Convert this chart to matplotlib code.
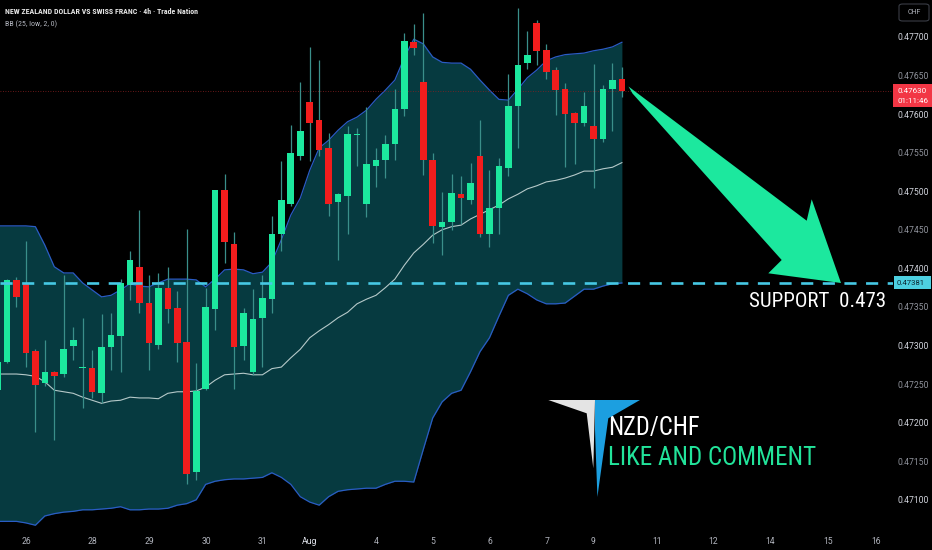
import numpy as np
import matplotlib
matplotlib.use("Agg")
import matplotlib.pyplot as plt
from matplotlib.patches import Polygon, Rectangle, FancyBboxPatch
from matplotlib import font_manager as fm

names = {f.name for f in fm.fontManager.ttflist}
NARROW = 'Roboto'
NARROW_STRETCH = 'normal'
for cand in ['Liberation Sans Narrow', 'Roboto Condensed', 'Noto Sans Condensed',
             'Open Sans Condensed', 'DejaVu Sans Condensed', 'Arial Narrow']:
    if cand in names:
        NARROW = cand
        break
else:
    for f in fm.fontManager.ttflist:
        if f.stretch in ('condensed', 'semi-condensed') and f.name in ('Noto Sans', 'Open Sans', 'DejaVu Sans', 'Roboto'):
            NARROW = f.name
            NARROW_STRETCH = f.stretch
            break
UI = 'Roboto' if 'Roboto' in names else 'DejaVu Sans'

# ---------------- data (4h candles, first one partly off-screen) ----------------
opens = [0.47242, 0.47279, 0.47385, 0.47380, 0.47293, 0.47252, 0.47266, 0.47263, 0.47299, 0.47271,
         0.47271, 0.47238, 0.47298, 0.47312, 0.47378, 0.47402, 0.47355, 0.47301, 0.47375, 0.47348,
         0.47304, 0.47136, 0.47243, 0.47347, 0.47501, 0.47432, 0.47299, 0.47265, 0.47336, 0.47360,
         0.47444, 0.47484, 0.47546, 0.47616, 0.47592, 0.47556, 0.47486, 0.47494, 0.47573, 0.47483,
         0.47532, 0.47541, 0.47561, 0.47606, 0.47693, 0.47642, 0.47540, 0.47454, 0.47460, 0.47496,
         0.47489, 0.47546, 0.47445, 0.47478, 0.47530, 0.47610, 0.47666, 0.47718, 0.47683, 0.47657,
         0.47633, 0.47601, 0.47588, 0.47584, 0.47567, 0.47632, 0.47645]
highs = [0.47288, 0.47386, 0.47389, 0.47436, 0.47295, 0.47307, 0.47267, 0.47391, 0.47324, 0.47336,
         0.47294, 0.47341, 0.47342, 0.47386, 0.47422, 0.47476, 0.47391, 0.47394, 0.47402, 0.47370,
         0.47451, 0.47277, 0.47375, 0.47501, 0.47522, 0.47447, 0.47348, 0.47373, 0.47391, 0.47468,
         0.47539, 0.47586, 0.47642, 0.47687, 0.47670, 0.47576, 0.47498, 0.47584, 0.47582, 0.47609,
         0.47556, 0.47573, 0.47633, 0.47705, 0.47717, 0.47731, 0.47549, 0.47499, 0.47522, 0.47520,
         0.47537, 0.47592, 0.47528, 0.47543, 0.47652, 0.47737, 0.47707, 0.47722, 0.47691, 0.47661,
         0.47640, 0.47603, 0.47629, 0.47665, 0.47638, 0.47666, 0.47661]
lows = [0.47236, 0.47277, 0.47350, 0.47272, 0.47188, 0.47247, 0.47177, 0.47259, 0.47281, 0.47219,
        0.47232, 0.47225, 0.47268, 0.47265, 0.47359, 0.47342, 0.47268, 0.47295, 0.47329, 0.47279,
        0.47120, 0.47126, 0.47242, 0.47320, 0.47407, 0.47244, 0.47281, 0.47262, 0.47272, 0.47342,
        0.47422, 0.47481, 0.47540, 0.47539, 0.47545, 0.47468, 0.47411, 0.47445, 0.47532, 0.47467,
        0.47506, 0.47517, 0.47541, 0.47597, 0.47676, 0.47521, 0.47433, 0.47417, 0.47450, 0.47458,
        0.47484, 0.47440, 0.47428, 0.47445, 0.47520, 0.47556, 0.47659, 0.47664, 0.47645, 0.47599,
        0.47531, 0.47535, 0.47584, 0.47504, 0.47564, 0.47578, 0.47622]
closes = [0.47279, 0.47385, 0.47363, 0.47290, 0.47249, 0.47265, 0.47261, 0.47296, 0.47307, 0.47272,
          0.47240, 0.47298, 0.47314, 0.47381, 0.47411, 0.47355, 0.47303, 0.47375, 0.47347, 0.47303,
          0.47133, 0.47241, 0.47350, 0.47501, 0.47434, 0.47298, 0.47342, 0.47334, 0.47361, 0.47444,
          0.47489, 0.47550, 0.47578, 0.47589, 0.47554, 0.47484, 0.47496, 0.47574, 0.47574, 0.47535,
          0.47540, 0.47561, 0.47607, 0.47695, 0.47686, 0.47540, 0.47455, 0.47460, 0.47497, 0.47491,
          0.47511, 0.47444, 0.47478, 0.47533, 0.47610, 0.47664, 0.47676, 0.47682, 0.47654, 0.47631,
          0.47600, 0.47588, 0.47610, 0.47567, 0.47633, 0.47644, 0.47630]

bb_upper = [0.47455, 0.47455, 0.47455, 0.47455, 0.47454, 0.47430, 0.47402, 0.47394, 0.47394, 0.47381,
            0.47372, 0.47363, 0.47365, 0.47372, 0.47380, 0.47377, 0.47376, 0.47381, 0.47386, 0.47386,
            0.47386, 0.47385, 0.47376, 0.47386, 0.47398, 0.47399, 0.47398, 0.47393, 0.47395, 0.47408,
            0.47437, 0.47469, 0.47491, 0.47527, 0.47556, 0.47566, 0.47579, 0.47590, 0.47596, 0.47605,
            0.47619, 0.47631, 0.47644, 0.47673, 0.47697, 0.47691, 0.47674, 0.47667, 0.47666, 0.47666,
            0.47658, 0.47644, 0.47631, 0.47619, 0.47618, 0.47632, 0.47647, 0.47657, 0.47669, 0.47674,
            0.47677, 0.47678, 0.47679, 0.47682, 0.47684, 0.47687, 0.47693]
bb_mid = [0.47263, 0.47263, 0.47263, 0.47262, 0.47260, 0.47253, 0.47242, 0.47240, 0.47238, 0.47233,
          0.47229, 0.47225, 0.47228, 0.47229, 0.47233, 0.47232, 0.47232, 0.47231, 0.47238, 0.47240,
          0.47240, 0.47241, 0.47246, 0.47255, 0.47262, 0.47263, 0.47264, 0.47262, 0.47262, 0.47270,
          0.47272, 0.47284, 0.47295, 0.47310, 0.47319, 0.47327, 0.47336, 0.47343, 0.47354, 0.47360,
          0.47365, 0.47375, 0.47386, 0.47404, 0.47420, 0.47431, 0.47443, 0.47450, 0.47454, 0.47456,
          0.47464, 0.47470, 0.47476, 0.47482, 0.47490, 0.47496, 0.47503, 0.47507, 0.47512, 0.47514,
          0.47517, 0.47521, 0.47526, 0.47526, 0.47529, 0.47531, 0.47537]
bb_lower = [0.47072, 0.47072, 0.47072, 0.47070, 0.47067, 0.47079, 0.47082, 0.47084, 0.47085, 0.47087,
            0.47087, 0.47088, 0.47089, 0.47091, 0.47087, 0.47087, 0.47088, 0.47088, 0.47089, 0.47093,
            0.47095, 0.47100, 0.47120, 0.47124, 0.47126, 0.47127, 0.47127, 0.47128, 0.47129, 0.47135,
            0.47129, 0.47120, 0.47104, 0.47097, 0.47093, 0.47104, 0.47111, 0.47113, 0.47114, 0.47115,
            0.47115, 0.47120, 0.47124, 0.47124, 0.47123, 0.47165, 0.47206, 0.47227, 0.47238, 0.47242,
            0.47266, 0.47292, 0.47310, 0.47338, 0.47365, 0.47373, 0.47367, 0.47359, 0.47354, 0.47354,
            0.47355, 0.47364, 0.47373, 0.47373, 0.47377, 0.47380, 0.47381]

day_labels = ['26', '28', '29', '30', '31', 'Aug', '4', '5', '6', '7', '9', '11', '12', '14', '15', '16']
day_pos = [2.0, 9.06, 15.04, 21.04, 27.03, 32.03, 39.0, 45.0, 51.06, 57.05, 62.0, 68.7, 74.6, 80.7, 86.8, 91.9]
price_ticks = [0.47100, 0.47150, 0.47200, 0.47250, 0.47300, 0.47350, 0.47400,
               0.47450, 0.47500, 0.47550, 0.47600, 0.47650, 0.47700]
support = 0.47381
last_price = 0.47630
last_time = '01:11:46'
title = 'NEW ZEALAND DOLLAR VS SWISS FRANC · 4h · Trade Nation'
indicator = 'BB (25, low, 2, 0)'

# ---------------- style ----------------
BG = '#000000'
GREEN = '#1ce89e'
RED = '#f21d1d'
WICK = '#3a8f8a'
FILL = '#063a40'
BAND = '#2a5cc4'
MID = '#b5c9c9'
CYAN = '#46c8e4'

W, H = 932, 550
def fx(x): return x / W
def fy(y): return 1 - y / H

fig = plt.figure(figsize=(W / 100, H / 100), dpi=100, facecolor=BG)
ax = fig.add_axes([0, fy(528), fx(893), 528 / H])
ax.set_facecolor(BG)
for s in ax.spines.values():
    s.set_visible(False)

n = len(opens)
idx = np.arange(n) - 1
o = np.array(opens); h = np.array(highs); l = np.array(lows); c = np.array(closes)

step = 9.46  # px per candle
ax.set_xlim(-7 / step, (893 - 7) / step)
ax.set_ylim(0.477478 - 528 * 1.29618e-5, 0.477478)

# Bollinger band
ax.fill_between(idx, bb_lower, bb_upper, color=FILL, lw=0, zorder=1)
ax.plot(idx, bb_upper, color=BAND, lw=0.9, zorder=2)
ax.plot(idx, bb_lower, color=BAND, lw=0.9, zorder=2)
ax.plot(idx, bb_mid, color=MID, lw=0.8, zorder=2)

# last price dotted line
ax.axhline(last_price, color='#8a2020', lw=0.6, ls=(0, (1, 2)), zorder=2)

# candles
up = c >= o
cols = np.where(up, GREEN, RED)
ax.vlines(idx, l, h, colors=WICK, lw=0.9, zorder=3)
bottoms = np.minimum(o, c)
heights = np.maximum(np.abs(c - o), 1.2e-5)
ax.bar(idx, heights, bottom=bottoms, width=0.7, color=cols, lw=0, zorder=4)

# support line
ax.axhline(support, color=CYAN, lw=1.9, dashes=(4.6, 3.6), zorder=6)

# axes ticks
ax.yaxis.tick_right()
ax.set_yticks(price_ticks)
ax.set_yticklabels([f'{p:.5f}' for p in price_ticks])
ax.tick_params(axis='y', length=0, pad=3, labelsize=6.2, labelcolor='#d1d4dc')
for lab, p in zip(ax.get_yticklabels(), price_ticks):
    lab.set_fontfamily(UI)
    if round(p * 10000) % 10 != 0:
        lab.set_color('#8f929b')
ax.set_xticks(day_pos)
ax.set_xticklabels(day_labels)
ax.tick_params(axis='x', length=0, pad=6.5, labelsize=6.2, labelcolor='#b2b5be')
for lab in ax.get_xticklabels():
    lab.set_fontfamily(UI)
    if lab.get_text() == 'Aug':
        lab.set_color('#e0e3eb')

fig.canvas.draw()
renderer = fig.canvas.get_renderer()

def data_px(price):
    return H - ax.transData.transform((0, price))[1]

def fit_width(t, target_px):
    w = t.get_window_extent(renderer).width
    if w > 0:
        t.set_fontsize(t.get_fontsize() * target_px / w)

# price labels on the axis
yp = data_px(last_price)
fig.add_artist(Rectangle((fx(893), fy(yp + 16)), fx(932) - fx(893), (23) / H,
                         transform=fig.transFigure, fc='#f23645', ec='none'))
fig.text(fx(897), fy(yp + 0.5), f'{last_price:.5f}', color='white', fontsize=5.8,
         family=UI, va='center', ha='left')
fig.text(fx(897), fy(yp + 10.5), last_time, color='white', fontsize=5.8,
         family=UI, va='center', ha='left')

ys = data_px(support)
fig.add_artist(Rectangle((fx(894), fy(ys + 6.5)), fx(931) - fx(894), 13 / H,
                         transform=fig.transFigure, fc='#4dd0e1', ec='none'))
fig.text(fx(897), fy(ys + 0.3), f'{support:.5f}', color='#0b2630', fontsize=5.6,
         family=UI, va='center', ha='left')

# CHF box
fig.add_artist(FancyBboxPatch((fx(899), fy(21)), fx(929) - fx(899), 17 / H,
                              boxstyle='round,pad=0,rounding_size=0.004',
                              transform=fig.transFigure, fc='none', ec='#3a3d46', lw=0.8))
fig.text(fx(914), fy(12.5), 'CHF', color='#b2b5be', fontsize=5, family=UI, ha='center', va='center')

# header
t1 = fig.text(fx(5), fy(12), title, color='#e6e6e6', fontsize=6.0, family=NARROW,
              fontstretch=NARROW_STRETCH, weight='bold', ha='left', va='center')
fit_width(t1, 191)
t2 = fig.text(fx(5), fy(24.5), indicator, color='#b2b5be', fontsize=6.0, family=NARROW,
              fontstretch=NARROW_STRETCH, ha='left', va='center')
fit_width(t2, 52)

# big arrow
arrow_px = [(628.5, 86.5), (806.7, 220.7), (811.7, 199.3), (841, 283), (768.3, 273.3),
            (781.7, 260), (632.5, 93.5)]
fig.add_artist(Polygon([(fx(x), fy(y)) for x, y in arrow_px], closed=True,
                       transform=fig.transFigure, fc=GREEN, ec='none', zorder=5))

t3 = fig.text(fx(749), fy(301.5), 'SUPPORT  0.473', color='white', fontsize=14,
              family=NARROW, fontstretch=NARROW_STRETCH, ha='left', va='center')
fit_width(t3, 138)

# logo
white_px = [(548.3, 400), (595, 400), (593.3, 468.3), (586.7, 413.3)]
blue_px = [(595, 400), (640, 400), (608.3, 418.3), (597.4, 497), (595, 430)]
fig.add_artist(Polygon([(fx(x), fy(y)) for x, y in white_px], closed=True,
                       transform=fig.transFigure, fc='#e4e4e4', ec='none', zorder=5))
fig.add_artist(Polygon([(fx(x), fy(y)) for x, y in blue_px], closed=True,
                       transform=fig.transFigure, fc='#1c9fe0', ec='none', zorder=5))
t4 = fig.text(fx(608), fy(428), 'NZD/CHF', color='white', fontsize=16, family=NARROW,
              fontstretch=NARROW_STRETCH, ha='left', va='center')
fit_width(t4, 92)
t5 = fig.text(fx(608), fy(458), 'LIKE AND COMMENT', color='#22e39a', fontsize=16, family=NARROW,
              fontstretch=NARROW_STRETCH, ha='left', va='center')
fit_width(t5, 209)

fig.savefig('out.png', dpi=100, facecolor=BG)
